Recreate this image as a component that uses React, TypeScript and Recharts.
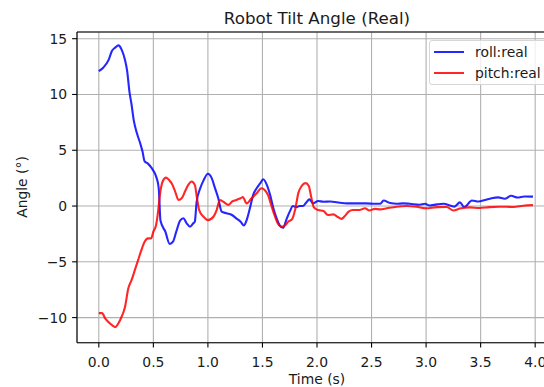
import { LineChart, Line, XAxis, YAxis, CartesianGrid, ReferenceLine, Legend } from 'recharts'

const rollTime = [
  0, 0.04, 0.09, 0.12, 0.15, 0.18, 0.21, 0.24, 0.26, 0.28, 0.3, 0.32, 0.35, 0.38, 0.4, 0.42, 0.45,
  0.485, 0.515, 0.53, 0.545, 0.55, 0.565, 0.61, 0.65, 0.68, 0.71, 0.745, 0.775, 0.805, 0.836, 0.866,
  0.88, 0.897, 0.93, 0.96, 1.0, 1.035, 1.065, 1.095, 1.126, 1.17, 1.22, 1.26, 1.3, 1.33, 1.355, 1.385,
  1.415, 1.447, 1.477, 1.507, 1.54, 1.57, 1.6, 1.63, 1.66, 1.69, 1.72, 1.75, 1.78, 1.81, 1.84, 1.87,
  1.9, 1.93, 1.965, 2.01, 2.06, 2.12, 2.21, 2.27, 2.33, 2.45, 2.53, 2.58, 2.61, 2.67, 2.73, 2.79,
  2.85, 2.94, 2.99, 3.03, 3.1, 3.16, 3.22, 3.26, 3.31, 3.35, 3.42, 3.48, 3.54, 3.6, 3.66, 3.72,
  3.78, 3.84, 3.9, 3.98,
]
const rollAngle = [
  12.1, 12.4, 13.1, 13.9, 14.2, 14.4, 14.0, 13.1, 12.1, 10.3, 9.1, 7.7, 6.5, 5.6, 4.9, 4.0, 3.8,
  3.4, 2.9, 2.5, 1.9, 1.5, -1.3, -2.3, -3.4, -3.2, -2.3, -1.3, -1.1, -1.55, -1.85, -1.55,
  -1.4, 0.4, 1.6, 2.3, 2.9, 2.5, 1.6, 0.7, -0.5, -0.65, -0.8, -1.1, -1.4, -1.75, -1.26, -0.2,
  1.0, 1.6, 2.0, 2.4, 1.9, 1.0, -0.2, -1.1, -1.75, -1.95, -1.2, -0.5, 0.0, -0.1, 0.0, 0.0,
  0.3, 0.6, 0.24, 0.45, 0.39, 0.4, 0.3, 0.24, 0.24, 0.24, 0.2, 0.2, 0.5, 0.27, 0.2, 0.24,
  0.2, 0.12, 0.2, 0.05, 0.15, 0.2, 0.05, -0.05, 0.33, -0.1, 0.5, 0.4, 0.54, 0.7, 0.78, 0.65,
  0.92, 0.76, 0.86, 0.84,
]

const pitchTime = [
  0, 0.03, 0.06, 0.1, 0.15, 0.18, 0.21, 0.24, 0.27, 0.3, 0.33, 0.36, 0.39, 0.42, 0.45, 0.48, 0.5,
  0.525, 0.545, 0.56, 0.585, 0.616, 0.647, 0.67, 0.7, 0.73, 0.76, 0.79, 0.82, 0.85, 0.88, 0.9, 0.92,
  0.96, 1.0, 1.05, 1.08, 1.11, 1.14, 1.19, 1.22, 1.26, 1.3, 1.32, 1.355, 1.4, 1.447, 1.49, 1.52,
  1.55, 1.58, 1.61, 1.64, 1.675, 1.71, 1.736, 1.77, 1.8, 1.83, 1.86, 1.895, 1.925, 1.945, 1.97, 2.01,
  2.06, 2.1, 2.15, 2.19, 2.225, 2.255, 2.29, 2.33, 2.39, 2.44, 2.48, 2.53, 2.58, 2.64, 2.73, 2.82,
  2.91, 3.0, 3.1, 3.19, 3.25, 3.31, 3.4, 3.49, 3.58, 3.67, 3.8, 3.89, 3.98,
]
const pitchAngle = [
  -9.6, -9.6, -10.1, -10.5, -10.85, -10.5, -9.9, -9.05, -7.4, -6.65, -5.75, -4.85, -3.95, -3.2, -2.9, -2.9, -2.3,
  -1.7, -0.36, 1.0, 2.2, 2.55, 2.3, 2.0, 1.3, 0.54, 0.69, 1.3, 1.9, 2.2, 1.9, 0.7, -0.36,
  -0.96, -1.26, -0.96, -0.36, 0.54, 0.39, 0.1, 0.39, 0.54, 0.7, 0.8, 0.24, 0.69, 1.14, 1.6, 1.44,
  1.0, 0.1, -0.8, -1.55, -1.86, -1.7, -1.4, -1.2, -0.3, 1.2, 1.8, 2.05, 1.8, 0.9, -0.1, -0.36,
  -0.45, -0.8, -0.75, -0.98, -1.15, -0.9, -0.5, -0.36, -0.36, -0.2, -0.4, -0.25, -0.3, -0.2, -0.06, 0.0,
  -0.06, -0.2, -0.1, -0.08, -0.4, -0.22, -0.12, -0.18, -0.1, -0.06, -0.08, 0.02, 0.08,
]

const xTicks = [0, 0.5, 1, 1.5, 2, 2.5, 3, 3.5, 4]
const yTicks = [-10, -5, 0, 5, 10, 15]

const rollData = rollTime.map((t, i) => ({ t, v: rollAngle[i] }))
const pitchData = pitchTime.map((t, i) => ({ t, v: pitchAngle[i] }))

// matplotlib figure at ~100 dpi: 10pt text ~ 13.9px
const font = 'DejaVu Sans, sans-serif'
const textColor = '#1a1a1a'
const tickStyle = { fontSize: 13.9, fill: textColor, fontFamily: font }

function LegendBox() {
  const items = [
    { name: 'roll:real', color: 'rgba(0,0,255,0.85)' },
    { name: 'pitch:real', color: 'rgba(255,0,0,0.85)' },
  ]
  return (
    <div
      style={{
        width: 140,
        height: 45,
        border: '1px solid #d6d6d6',
        borderRadius: 3,
        background: 'rgba(255,255,255,0.8)',
        boxSizing: 'border-box',
        position: 'relative',
        fontFamily: font,
        fontSize: 13.9,
        color: textColor,
      }}
    >
      {items.map((it, i) => (
        <div key={it.name} style={{ position: 'absolute', left: 4, top: 3.2 + i * 20.6, height: 16, display: 'flex', alignItems: 'center' }}>
          <div style={{ width: 30, height: 2.1, background: it.color }} />
          <span style={{ marginLeft: 11, lineHeight: '16px', whiteSpace: 'nowrap' }}>{it.name}</span>
        </div>
      ))}
    </div>
  )
}

export default function App() {
  return (
    <div style={{ position: 'absolute', left: 0, top: 0, width: 544, height: 387, overflow: 'hidden', background: '#fff' }}>
      <div style={{ position: 'absolute', left: 117, width: 400, top: 8, textAlign: 'center', fontFamily: font, fontSize: 16.7, lineHeight: '20px', color: textColor }}>
        Robot Tilt Angle (Real)
      </div>
      <div style={{ position: 'absolute', left: 217, width: 200, top: 370.7, textAlign: 'center', fontFamily: font, fontSize: 13.9, lineHeight: '16px', color: textColor }}>
        Time (s)
      </div>
      <div
        style={{
          position: 'absolute',
          left: 22,
          top: 187,
          transform: 'translate(-50%, -50%) rotate(-90deg)',
          fontFamily: font,
          fontSize: 13.9,
          lineHeight: '16px',
          color: textColor,
          whiteSpace: 'nowrap',
        }}
      >
        Angle (°)
      </div>
      <LineChart width={580} height={387} margin={{ top: 32, right: 23, bottom: 0, left: 0 }}>
        <CartesianGrid stroke="#b0b0b0" strokeWidth={1.1} />
        <XAxis
          type="number"
          dataKey="t"
          domain={[-0.2, 4.2]}
          ticks={xTicks}
          allowDataOverflow
          height={44.3}
          tick={tickStyle}
          tickFormatter={(v: number) => v.toFixed(1)}
          tickSize={4.9}
          tickMargin={9.2}
          stroke="#000"
          strokeWidth={1.1}
          tickLine={{ stroke: '#000', strokeWidth: 1.1 }}
        />
        <YAxis
          type="number"
          domain={[-12.25, 15.6]}
          ticks={yTicks}
          allowDataOverflow
          width={77}
          tick={tickStyle}
          tickFormatter={(v: number) => (v < 0 ? '\u2212' + Math.abs(v) : String(v))}
          tickSize={4.9}
          tickMargin={4.9}
          stroke="#000"
          strokeWidth={1.1}
          tickLine={{ stroke: '#000', strokeWidth: 1.1 }}
        />
        <ReferenceLine y={15.6} stroke="#000" strokeWidth={1.1} />
        <Line data={rollData} dataKey="v" type="monotone" stroke="blue" strokeOpacity={0.85} strokeWidth={2.1} dot={false} isAnimationActive={false} name="roll:real" />
        <Line data={pitchData} dataKey="v" type="monotone" stroke="red" strokeOpacity={0.85} strokeWidth={2.1} dot={false} isAnimationActive={false} name="pitch:real" />
        <Legend
          layout="vertical"
          align="center"
          verticalAlign="middle"
          content={() => <LegendBox />}
          wrapperStyle={{ left: 429, top: 40, width: 140, height: 45 }}
        />
      </LineChart>
    </div>
  )
}
